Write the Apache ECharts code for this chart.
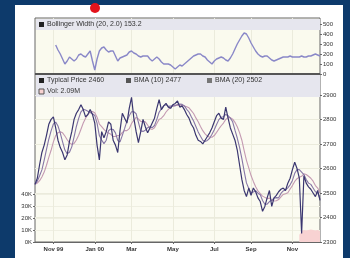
<!DOCTYPE html>
<html>
<head>
<meta charset="utf-8">
<script src="https://cdn.jsdelivr.net/npm/echarts@6/dist/echarts.min.js"></script>
<style>
  html, body { margin: 0; padding: 0; background: #0d3a6b; }
  #panel { position: absolute; left: 15px; top: 5px; width: 328px; height: 253px; background: #ffffff; }
  #main { position: absolute; left: 0; top: 0; width: 350px; height: 258px; }
</style>
</head>
<body>
<div id="panel"></div>
<div id="main"></div>
<script>
// typical price, 2 points per week, Oct 99 - Dec 00
const price = [
  2535, 2560, 2615, 2665, 2695, 2735, 2780, 2800, 2810, 2765,
  2715, 2685, 2665, 2635, 2655, 2710, 2750, 2800, 2825, 2840,
  2860, 2840, 2810, 2820, 2840, 2820, 2785, 2695, 2635, 2750,
  2725, 2750, 2790, 2780, 2715, 2695, 2665, 2755, 2825, 2805,
  2785, 2845, 2890, 2805, 2750, 2705, 2750, 2800, 2770, 2745,
  2765, 2785, 2805, 2845, 2880, 2840, 2855, 2865, 2850, 2845,
  2860, 2865, 2875, 2850, 2855, 2840, 2820, 2805, 2780, 2765,
  2735, 2715, 2710, 2700, 2715, 2730, 2745, 2765, 2790, 2815,
  2825, 2805, 2800, 2850, 2805, 2765, 2740, 2715, 2675, 2615,
  2555, 2510, 2485, 2520, 2490, 2520, 2505, 2480, 2465, 2425,
  2445, 2480, 2510, 2445, 2480, 2490, 2505, 2515, 2520, 2510,
  2540, 2560, 2595, 2625, 2600, 2560, 2335, 2570, 2540, 2525,
  2515, 2500, 2485, 2510, 2470
];

const bma10 = [
  2535, 2548, 2570, 2594, 2634, 2678, 2719, 2753, 2781, 2789,
  2773, 2744, 2708, 2675, 2660, 2666, 2688, 2729, 2771, 2804,
  2831, 2841, 2838, 2833, 2828, 2823, 2816, 2785, 2734, 2716,
  2701, 2715, 2754, 2761, 2759, 2745, 2714, 2708, 2735, 2763,
  2793, 2815, 2831, 2831, 2823, 2788, 2753, 2751, 2756, 2766,
  2770, 2766, 2775, 2800, 2829, 2843, 2855, 2860, 2853, 2854,
  2855, 2855, 2861, 2863, 2861, 2855, 2841, 2830, 2811, 2793,
  2771, 2749, 2731, 2715, 2710, 2714, 2723, 2739, 2758, 2779,
  2799, 2809, 2811, 2820, 2815, 2805, 2790, 2756, 2724, 2686,
  2640, 2589, 2541, 2518, 2501, 2504, 2509, 2499, 2493, 2469,
  2454, 2454, 2465, 2470, 2479, 2481, 2480, 2498, 2508, 2513,
  2521, 2533, 2551, 2580, 2595, 2595, 2585, 2575, 2555, 2540,
  2535, 2520, 2505, 2500, 2477
];

const bma20 = [
  2535, 2540, 2550, 2565, 2585, 2613, 2645, 2674, 2708, 2734,
  2746, 2749, 2745, 2732, 2717, 2705, 2698, 2702, 2716, 2735,
  2760, 2785, 2805, 2819, 2830, 2832, 2827, 2809, 2781, 2770,
  2759, 2750, 2744, 2739, 2730, 2730, 2734, 2735, 2747, 2754,
  2754, 2762, 2783, 2797, 2808, 2802, 2792, 2791, 2790, 2777,
  2762, 2759, 2766, 2783, 2800, 2805, 2815, 2830, 2841, 2849,
  2855, 2858, 2857, 2859, 2858, 2855, 2851, 2847, 2836, 2824,
  2806, 2790, 2771, 2754, 2741, 2732, 2727, 2727, 2734, 2747,
  2761, 2774, 2785, 2800, 2807, 2807, 2801, 2788, 2770, 2746,
  2715, 2673, 2633, 2602, 2571, 2547, 2525, 2509, 2497, 2487,
  2482, 2477, 2479, 2470, 2467, 2468, 2473, 2484, 2494, 2497,
  2501, 2516, 2530, 2547, 2558, 2564, 2568, 2578, 2575, 2568,
  2560, 2548, 2530, 2520, 2502
];

const bbWidth = [
  null, null, null, null, null, null, null, null, null, 290,
  240, 200, 150, 100, 130, 170, 150, 130, 150, 190,
  200, 180, 170, 200, 230, 130, 40, 150, 230, 260,
  270, 240, 220, 230, 230, 180, 130, 160, 170, 180,
  190, 220, 230, 210, 200, 180, 170, 180, 180, 180,
  150, 130, 150, 170, 150, 120, 100, 100, 100, 90,
  70, 50, 70, 90, 80, 100, 120, 140, 160, 180,
  190, 200, 200, 180, 170, 140, 120, 100, 130, 150,
  160, 170, 160, 140, 130, 160, 200, 250, 300, 340,
  380, 410, 400, 360, 310, 270, 230, 200, 180, 170,
  180, 180, 160, 140, 130, 140, 150, 160, 170, 170,
  170, 180, 170, 170, 170, 170, 180, 170, 170, 180,
  180, 190, 200, 190, 180
];

// volume only shows up at the very end
const volStart = 115;
const volume = [6000, 9000, 10000, 9500, 10000, 10500, 10000, 9500, 10000, 9000];

const tickIdx = [8, 26, 42, 60, 78, 94, 112];
const tickText = ['Nov 99', 'Jan 00', 'Mar', 'May', 'Jul', 'Sep', 'Nov'];

const cats = price.map((v, i) => i);
const volData = price.map((v, i) => (i >= volStart ? volume[i - volStart] : null));

const isTick = function (idx) { return tickIdx.indexOf(idx) >= 0; };
const font = 'Liberation Sans, Arial, sans-serif';
const gridLine = { show: true, interval: isTick, lineStyle: { color: '#ebebdc', width: 1 } };

const chart = echarts.init(document.getElementById('main'), null, { renderer: 'canvas' });

const option = {
  backgroundColor: 'transparent',
  animation: false,
  textStyle: { fontFamily: font },
  grid: [
    { left: 35, right: 30, top: 18, height: 56, show: true, backgroundColor: '#fafaee', borderColor: '#666', borderWidth: 1 },
    { left: 35, right: 30, top: 74, bottom: 16, show: true, backgroundColor: '#fbfbf1', borderColor: '#666', borderWidth: 1 },
    { left: 35, right: 30, top: 194, bottom: 16, show: false }
  ],
  xAxis: [
    {
      type: 'category', gridIndex: 0, data: cats, boundaryGap: false,
      axisLine: { show: false }, axisTick: { show: false }, axisLabel: { show: false },
      splitLine: gridLine
    },
    {
      type: 'category', gridIndex: 1, data: cats, boundaryGap: false,
      axisLine: { lineStyle: { color: '#666' } },
      axisTick: { show: true, interval: isTick, length: 2, lineStyle: { color: '#666' } },
      axisLabel: {
        interval: isTick, margin: 4, fontSize: 6, fontWeight: 'bold', color: '#333',
        formatter: function (v, idx) { return tickText[tickIdx.indexOf(idx)] || ''; }
      },
      splitLine: gridLine
    },
    {
      type: 'category', gridIndex: 2, data: cats, boundaryGap: false, show: false
    }
  ],
  yAxis: [
    {
      type: 'value', gridIndex: 0, position: 'right', min: 0, max: 560, interval: 100,
      axisLine: { show: false },
      axisTick: { show: true, length: 2, lineStyle: { color: '#666' } },
      axisLabel: { fontSize: 6, color: '#333', margin: 3, showMaxLabel: false },
      splitLine: { show: false }
    },
    {
      type: 'value', gridIndex: 1, position: 'right', min: 2300, max: 2985, interval: 100,
      axisLine: { show: false },
      axisTick: { show: true, length: 2, lineStyle: { color: '#666' } },
      axisLabel: {
        fontSize: 6, color: '#333', margin: 3, showMaxLabel: false,
        formatter: function (v) { return String(v); }
      },
      splitLine: { show: true, lineStyle: { color: '#ebebdc' } }
    },
    {
      type: 'value', gridIndex: 2, position: 'left', min: 0, max: 40000, interval: 10000,
      axisLine: { show: false },
      axisTick: { show: true, length: 2, lineStyle: { color: '#666' } },
      axisLabel: {
        fontSize: 6, color: '#333', margin: 3,
        formatter: function (v) { return (v / 1000) + 'K'; }
      },
      splitLine: { show: true, lineStyle: { color: '#efefe2' } }
    }
  ],
  series: [
    {
      name: 'Bollinger Width (20, 2.0)', type: 'line', xAxisIndex: 0, yAxisIndex: 0,
      data: bbWidth, showSymbol: false, connectNulls: false,
      lineStyle: { color: '#8a88c8', width: 1.4 }
    },
    {
      name: 'Vol', type: 'line', xAxisIndex: 2, yAxisIndex: 2, z: 1,
      data: volData, showSymbol: false,
      lineStyle: { width: 0 }, areaStyle: { color: '#f8d2d2', opacity: 1 }
    },
    {
      name: 'BMA (20)', type: 'line', xAxisIndex: 1, yAxisIndex: 1,
      data: bma20, showSymbol: false,
      lineStyle: { color: '#c49ab2', width: 1.1 }
    },
    {
      name: 'BMA (10)', type: 'line', xAxisIndex: 1, yAxisIndex: 1,
      data: bma10, showSymbol: false,
      lineStyle: { color: '#8676a6', width: 1.1 }
    },
    {
      name: 'Typical Price', type: 'line', xAxisIndex: 1, yAxisIndex: 1,
      data: price, showSymbol: false,
      lineStyle: { color: '#3a3670', width: 1.2 }
    }
  ],
  graphic: [
    // header bars of the two panels
    { type: 'rect', z: 1, shape: { x: 36, y: 19, width: 284, height: 11 }, style: { fill: '#e6e6ee' } },
    { type: 'rect', z: 1, shape: { x: 36, y: 75, width: 284, height: 22 }, style: { fill: '#e6e6ee' } },
    { type: 'rect', z: 10, shape: { x: 35, y: 73, width: 285, height: 2 }, style: { fill: '#555' } },
    // legend rows
    { type: 'rect', z: 10, shape: { x: 39, y: 22, width: 5, height: 5 }, style: { fill: '#222' } },
    { type: 'text', z: 10, x: 47, y: 24.5, style: { text: 'Bollinger Width (20, 2.0) 153.2', fontSize: 7, fontFamily: font, fill: '#333', verticalAlign: 'middle' } },
    { type: 'rect', z: 10, shape: { x: 39, y: 78, width: 5, height: 5 }, style: { fill: '#222' } },
    { type: 'text', z: 10, x: 47, y: 80.5, style: { text: 'Typical Price 2460', fontSize: 7, fontFamily: font, fill: '#333', verticalAlign: 'middle' } },
    { type: 'rect', z: 10, shape: { x: 126, y: 78, width: 5, height: 5 }, style: { fill: '#555' } },
    { type: 'text', z: 10, x: 134, y: 80.5, style: { text: 'BMA (10) 2477', fontSize: 7, fontFamily: font, fill: '#333', verticalAlign: 'middle' } },
    { type: 'rect', z: 10, shape: { x: 207, y: 78, width: 5, height: 5 }, style: { fill: '#777' } },
    { type: 'text', z: 10, x: 215, y: 80.5, style: { text: 'BMA (20) 2502', fontSize: 7, fontFamily: font, fill: '#333', verticalAlign: 'middle' } },
    { type: 'rect', z: 10, shape: { x: 39, y: 89, width: 5, height: 5 }, style: { fill: '#f8d2d2', stroke: '#555', lineWidth: 1 } },
    { type: 'text', z: 10, x: 47, y: 91.5, style: { text: 'Vol: 2.09M', fontSize: 7, fontFamily: font, fill: '#333', verticalAlign: 'middle' } },
    // red marker above the chart
    { type: 'circle', z: 10, shape: { cx: 95, cy: 8, r: 5 }, style: { fill: '#e3131b' } }
  ]
};

chart.setOption(option);
</script>
</body>
</html>
